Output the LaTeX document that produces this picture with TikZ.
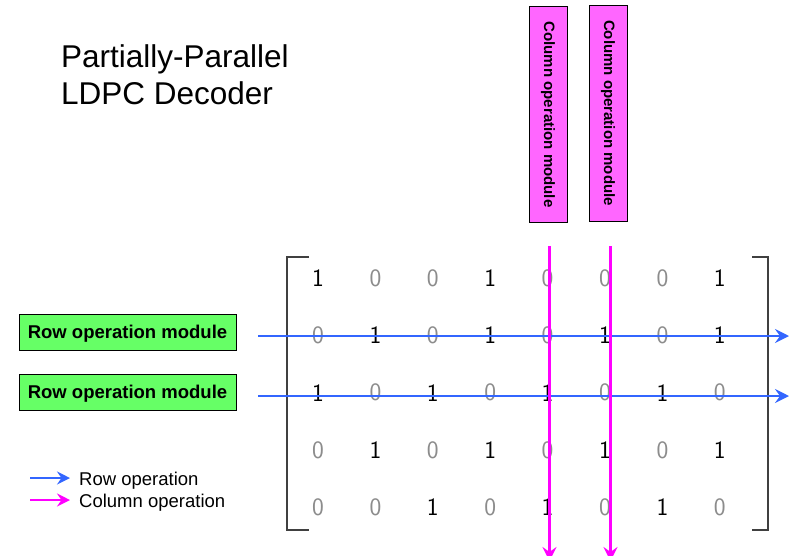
\documentclass[tikz,border=0pt]{standalone}
\usepackage{fontspec}
\setmainfont{Liberation Sans}
\usetikzlibrary{arrows.meta}
\definecolor{rowblue}{HTML}{3366FF}
\definecolor{colmag}{HTML}{FF00FF}
\definecolor{magfill}{HTML}{FF66FF}
\definecolor{greenfill}{HTML}{66FF66}
\definecolor{zerogray}{HTML}{8C8C8C}
\tikzset{
  title/.style={anchor=base west, inner sep=0pt, font=\fontsize{31.5}{36}\selectfont},
  colbox/.style={draw=black, line width=0.8pt, fill=magfill, rotate=-90,
    minimum width=216pt, minimum height=38pt, inner sep=0pt,
    font=\bfseries\fontsize{15}{17}\selectfont},
  rowbox/.style={draw=black, line width=0.8pt, fill=greenfill,
    minimum width=217pt, minimum height=36pt, inner sep=0pt,
    text height=13pt, text depth=1pt,
    font=\bfseries\fontsize{18.5}{20}\selectfont},
  one/.style={inner sep=0pt, font=\sffamily\fontsize{25}{25}\selectfont, text=black},
  zero/.style={inner sep=0pt, font=\sffamily\fontsize{25}{25}\selectfont, text=zerogray},
  rowarrow/.style={draw=rowblue, line width=2.6pt, -{Stealth[length=14pt, width=14pt, inset=5pt]}},
  colarrow/.style={draw=colmag, line width=2.6pt, -{Stealth[length=14pt, width=14pt, inset=5pt]}},
  legarrow/.style={line width=2.6pt, -{Stealth[length=13pt, width=13pt, inset=4.5pt]}},
  bracket/.style={draw=black!75, line width=1.2pt},
  legtext/.style={anchor=base west, inner sep=0pt, font=\fontsize{18.5}{20}\selectfont}
}
\begin{document}
\begin{tikzpicture}[x=1pt, y=-1pt]
\useasboundingbox (0,0) rectangle (789,555);

% Title
\node[title] (t1) at (61,67) {Partially-Parallel};
\node[title] (t2) at (61,104) {LDPC Decoder};

% Column operation modules
\node[colbox] (cm1) at (548,114.5) {Column operation module};
\node[colbox] (cm2) at (608,113) {Column operation module};

% Row operation modules
\node[rowbox] (rm1) at (127.5,332) {Row operation module};
\node[rowbox] (rm2) at (127.5,392) {Row operation module};

% Matrix brackets
\draw[bracket] (309,257) -- (287,257) -- (287,530) -- (309,530);
\draw[bracket] (752,257) -- (768,257) -- (768,530) -- (752,530);

% Matrix entries
\foreach \row [count=\r] in {
  {1,0,0,1,0,0,0,1},
  {0,1,0,1,0,1,0,1},
  {1,0,1,0,1,0,1,0},
  {0,1,0,1,0,1,0,1},
  {0,0,1,0,1,0,1,0}} {
  \foreach \v [count=\c] in \row {
    \pgfmathsetmacro{\xx}{318+57.4*(\c-1)}
    \pgfmathsetmacro{\yy}{278+57.3*(\r-1)}
    \ifnum\v=1
      \node[one] (m\r\c) at (\xx,\yy) {1};
    \else
      \node[zero] (m\r\c) at (\xx,\yy) {0};
    \fi
  }
}

% Row operation arrows
\coordinate (ra1) at (258,336);
\coordinate (rb1) at (789,336);
\coordinate (ra2) at (258,396);
\coordinate (rb2) at (789,396);
\draw[rowarrow] (ra1) -- (rb1);
\draw[rowarrow] (ra2) -- (rb2);

% Column operation arrows
\coordinate (ca1) at (549.5,246);
\coordinate (cb1) at (549.5,561);
\coordinate (ca2) at (610.5,246);
\coordinate (cb2) at (610.5,561);
\draw[colarrow] (ca1) -- (cb1);
\draw[colarrow] (ca2) -- (cb2);

% Legend
\coordinate (la1) at (30,478);
\coordinate (lb1) at (70,478);
\coordinate (la2) at (30,500);
\coordinate (lb2) at (70,500);
\draw[legarrow, draw=rowblue] (la1) -- (lb1);
\draw[legarrow, draw=colmag] (la2) -- (lb2);
\node[legtext] (l1) at (79,485) {Row operation};
\node[legtext] (l2) at (79,507) {Column operation};
\end{tikzpicture}
\end{document}
